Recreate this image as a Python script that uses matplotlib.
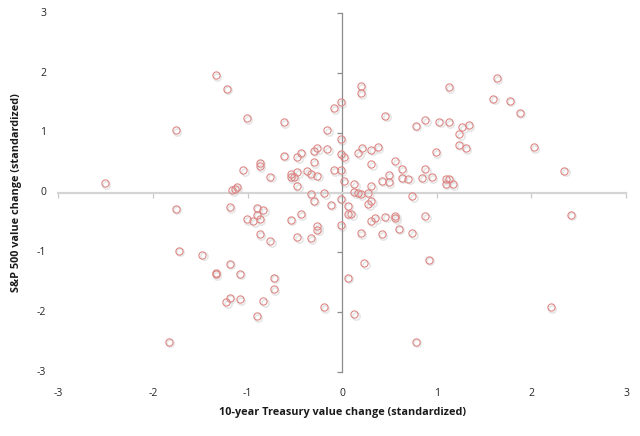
import matplotlib
matplotlib.use("Agg")
import matplotlib.pyplot as plt
import matplotlib.transforms as mtransforms

# Standardized value changes
treasury = [
    -1.335, -1.22, -1.01, -1.76, -0.616, -0.014, -0.085, -0.155, -0.014, -0.264,
    -0.30, -0.44, -0.476, -0.616, -0.155, -0.014, 0.02, -0.30, -0.87, -0.87,
    -1.046, -0.76, -0.545, -0.545, -0.51, -0.476, -0.37, -0.334, -0.264, -0.085,
    -0.014, 0.02, -0.476, -1.116, -1.134, -1.159, -2.51, -0.334, -0.19,
    -0.30, -0.014, -0.12, 0.057, 0.06, 0.095, -1.76, -1.187, -0.905, -0.835,
    -0.905, -1.01, -0.94, -0.87, -0.545, -0.44, -0.264, -0.264, -0.014, -0.87,
    -0.76, -0.476, -0.334, -1.726, -1.476, -1.187, -1.335, -1.335, -1.081, -0.725,
    -0.725, -1.187, -1.226, -1.081, -0.835, -0.905, -0.193, -1.835, 0.06,
    0.13, 0.166, 0.20, 0.275, 0.31, 0.275, 0.74, 0.35, 0.31, 0.455,
    0.56, 0.56, 0.88, 0.596, 0.20, 0.416, 0.74, 0.236, 0.916, 0.13,
    0.776, 2.203, 2.418,
    0.20, 0.20, 0.455, 1.13, 1.632, 1.596, 1.773, 1.88, 0.776, 0.88,
    1.025, 1.13, 1.27, 1.34, 1.237, 1.237, 1.31, 2.026, 2.347, 0.17,
    0.205, 0.31, 0.38, 0.31, 0.56, 0.987, 0.63, 0.88, 0.49, 0.416,
    0.49, 0.63, 0.70, 0.846, 0.95, 1.096, 1.13, 1.096, 1.167, 0.13,
    0.31,
]
sp500 = [
    1.96, 1.74, 1.25, 1.05, 1.18, 1.515, 1.41, 1.05, 0.90, 0.74,
    0.70, 0.67, 0.595, 0.62, 0.73, 0.65, 0.59, 0.507, 0.50, 0.44,
    0.373, 0.27, 0.306, 0.256, 0.256, 0.345, 0.356, 0.306, 0.284, 0.373,
    0.373, 0.19, 0.105, 0.094, 0.067, 0.038, 0.16, -0.028, -0.006,
    -0.134, -0.10, -0.20, -0.22, -0.35, -0.363, -0.27, -0.24, -0.25, -0.296,
    -0.368, -0.44, -0.48, -0.44, -0.45, -0.357, -0.558, -0.62, -0.547, -0.70,
    -0.81, -0.75, -0.76, -0.97, -1.04, -1.19, -1.34, -1.36, -1.355, -1.42,
    -1.61, -1.756, -1.83, -1.785, -1.82, -2.07, -1.92, -2.49, -1.42,
    0.01, 0.0, -0.028, 0.0, -0.14, -0.196, -0.056, -0.43, -0.475, -0.40,
    -0.39, -0.43, -0.39, -0.60, -0.675, -0.70, -0.675, -1.18, -1.12, -2.035,
    -2.49, -1.92, -0.37,
    1.78, 1.66, 1.29, 1.76, 1.91, 1.57, 1.54, 1.34, 1.12, 1.21,
    1.19, 1.175, 1.09, 1.13, 0.98, 0.80, 0.746, 0.76, 0.37, 0.657,
    0.74, 0.72, 0.76, 0.473, 0.53, 0.674, 0.395, 0.39, 0.29, 0.20,
    0.177, 0.25, 0.234, 0.25, 0.26, 0.222, 0.234, 0.15, 0.139, 0.144,
    0.105,
]
tick_values = [-3, -2, -1, 0, 1, 2, 3]
tick_labels = ["-3", "-2", "-1", "0", "1", "2", "3"]
x_title = "10-year Treasury value change (standardized)"
y_title = "S&P 500 value change (standardized)"

plt.rcParams['font.family'] = ['Open Sans', 'DejaVu Sans']

W, H = 640, 436
fig = plt.figure(figsize=(W / 100, H / 100), dpi=100)
left, right, top, bottom = 58.3, 626.0, 13.3, 372.0
ax = fig.add_axes([left / W, 1 - bottom / H, (right - left) / W, (bottom - top) / H])
ax.set_xlim(-3, 3)
ax.set_ylim(-3, 3)

# soft shadow
shadow = mtransforms.offset_copy(ax.transData, fig=fig, x=1.0, y=-1.2, units='points')
ax.plot(treasury, sp500, linestyle='none', marker='o', markersize=5.2,
        markerfacecolor='none', markeredgecolor='#e6e6e6', markeredgewidth=1.2,
        transform=shadow, zorder=2)
ax.plot(treasury, sp500, linestyle='none', marker='o', markersize=5.2,
        markerfacecolor='none', markeredgecolor='#dc8886', markeredgewidth=0.8,
        zorder=3)

for s in ['top', 'right']:
    ax.spines[s].set_visible(False)
ax.spines['left'].set_position(('data', 0))
ax.spines['bottom'].set_position(('data', 0))
ax.spines['left'].set_color('#8c8c8c')
ax.spines['left'].set_linewidth(0.9)
ax.spines['bottom'].set_color('#d4d4d4')
ax.spines['bottom'].set_linewidth(1.6)

ax.set_xticks(tick_values)
ax.set_yticks(tick_values)
ax.tick_params(axis='x', direction='out', length=3.6, width=0.9, color='#c8c8c8',
               labelbottom=False)
ax.tick_params(axis='y', direction='out', length=3.6, width=0.9, color='#8c8c8c',
               labelleft=False)

# tick labels at the low edges (Excel-style)
xt = mtransforms.blended_transform_factory(ax.transData, ax.transAxes) + \
    mtransforms.ScaledTranslation(0, -21 / 100, fig.dpi_scale_trans)
for v, lab in zip(tick_values, tick_labels):
    ax.text(v, 0, lab, transform=xt, ha='center', va='center', fontsize=7.5,
            color='#262626')
yt = mtransforms.blended_transform_factory(ax.transAxes, ax.transData) + \
    mtransforms.ScaledTranslation(-12 / 100, 0, fig.dpi_scale_trans)
for v, lab in zip(tick_values, tick_labels):
    ax.text(0, v, lab, transform=yt, ha='right', va='center', fontsize=7.5,
            color='#262626')

fig.text((left + right) / 2 / W, 1 - 412 / H, x_title, ha='center', va='center',
         fontsize=7.8, fontweight='bold', color='#1a1a1a')
fig.text(17 / W, 1 - (top + bottom) / 2 / H, y_title, ha='center', va='center',
         rotation=90, fontsize=7.8, fontweight='bold', color='#1a1a1a')

fig.savefig('out.png', dpi=100)
